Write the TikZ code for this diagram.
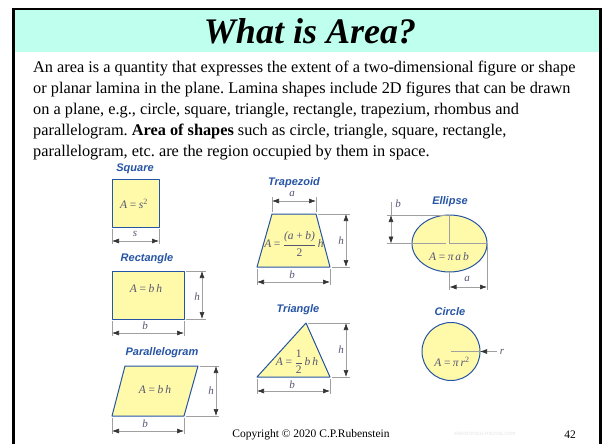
\documentclass[tikz,border=0pt]{standalone}
\usepackage{amsmath}
\usepackage{fontspec}
\setmainfont{Liberation Serif}
\newfontfamily\labelfont{Liberation Sans}
\definecolor{slidemint}{RGB}{191,255,238}
\definecolor{shapeblue}{RGB}{38,84,164}
\definecolor{shapeyellow}{RGB}{255,250,170}
\definecolor{formulagray}{RGB}{85,85,115}
\definecolor{dimgray}{RGB}{160,160,160}
\usetikzlibrary{arrows.meta}

\begin{document}
\frenchspacing
\begin{tikzpicture}[x=1pt, y=-1pt,
    shapebox/.style={draw=shapeblue, fill=shapeyellow, line width=1pt, line join=round},
    shapename/.style={text=shapeblue, font=\labelfont\bfseries\itshape\fontsize{11}{13}\selectfont},
    formula/.style={text=formulagray, font=\itshape\fontsize{11.5}{13}\selectfont, inner sep=0pt},
    dimlabel/.style={text=formulagray, font=\itshape\fontsize{11}{13}\selectfont, inner sep=0pt},
    extline/.style={dimgray, line width=0.6pt},
    dimline/.style={dimgray, line width=0.6pt, {Latex[length=7pt,width=5pt,black!80]}-{Latex[length=7pt,width=5pt,black!80]}}]
\useasboundingbox (0,0) rectangle (602,444);

% === Marco de la diapositiva ===
\fill[slidemint] (13,10) rectangle (600,52);
\draw[line width=3pt] (13.5,446) -- (13.5,9.5);
\draw[line width=2pt] (12,9) -- (602,9);
\draw[line width=3pt] (600.5,9.5) -- (600.5,446);

% Titulo
\node[font=\bfseries\itshape\fontsize{36}{40}\selectfont] (title) at (310,31) {What is Area?};

% Texto del cuerpo
\node[anchor=north west, inner sep=0pt, align=left, font=\fontsize{16.3}{21}\selectfont] (body) at (33,60.5) {%
An area is a quantity that expresses the extent of a two-dimensional figure or shape\\
or planar lamina in the plane. Lamina shapes include 2D figures that can be drawn\\
on a plane, e.g., circle, square, triangle, rectangle, trapezium, rhombus and\\
parallelogram. \textbf{Area of shapes} such as circle, triangle, square, rectangle,\\
parallelogram, etc. are the region occupied by them in space.};

% === Cuadrado ===
\node[shapename] (sqname) at (135,169) {Square};
\draw[shapebox] (112,179) rectangle (159,227);
\node[formula] (sqarea) at (134,204) {A\,=\,s\textsuperscript{\upshape 2}};
\draw[extline] (112,229) -- (112,244);
\draw[extline] (159,229) -- (159,244);
\draw[dimline] (112,241) -- (159,241);
\node[dimlabel] (sqs) at (135,234) {s};

% === Rectangulo ===
\node[shapename] (rectname) at (147,259) {Rectangle};
\draw[shapebox] (112,271) rectangle (184,319);
\node[formula] (rectarea) at (146,289) {A\,=\,b\,h};
\draw[extline] (186,271) -- (206,271);
\draw[extline] (186,319) -- (206,319);
\draw[dimline] (202,271) -- (202,319);
\node[dimlabel] (recth) at (197,297) {h};
\draw[extline] (112,321) -- (112,336);
\draw[extline] (184,321) -- (184,336);
\draw[dimline] (112,333) -- (184,333);
\node[dimlabel] (rectb) at (145,326) {b};

% === Paralelogramo ===
\node[shapename] (parname) at (162,353) {Parallelogram};
\draw[shapebox] (112,416) -- (184,416) -- (198,366) -- (125,366) -- cycle;
\node[formula] (pararea) at (155,390) {A\,=\,b\,h};
\draw[extline] (200,366) -- (219,366);
\draw[extline] (186,416) -- (219,416);
\draw[dimline] (216,366) -- (216,416);
\node[dimlabel] (parh) at (211,391) {h};
\draw[extline] (112,418) -- (112,434);
\draw[extline] (184,418) -- (184,434);
\draw[dimline] (112,431) -- (184,431);
\node[dimlabel] (parb) at (145,424) {b};

% === Trapecio ===
\node[shapename] (trapname) at (294,183) {Trapezoid};
\draw[shapebox] (257,267) -- (330,267) -- (316,214) -- (272,214) -- cycle;
\node[formula] (traparea) at (294,244) {A\,=\,$\dfrac{\text{(a\,+\,b)}}{\text{\upshape 2}}$\,h};
\draw[extline] (272,197) -- (272,212);
\draw[extline] (316,197) -- (316,212);
\draw[dimline] (272,201) -- (316,201);
\node[dimlabel] (trapa) at (292,194) {a};
\draw[extline] (318,214) -- (350,214);
\draw[extline] (332,267) -- (350,267);
\draw[dimline] (346,214) -- (346,267);
\node[dimlabel] (traph) at (341,241) {h};
\draw[extline] (257,269) -- (257,285);
\draw[extline] (330,269) -- (330,285);
\draw[dimline] (257,282) -- (330,282);
\node[dimlabel] (trapb) at (292,275) {b};

% === Triangulo ===
\node[shapename] (triname) at (298,310) {Triangle};
\draw[shapebox] (257,377) -- (330,377) -- (306,323) -- cycle;
\node[formula] (triarea) at (297,362) {A\,=\,$\dfrac{\text{\upshape 1}}{\text{\upshape 2}}$\,b\,h};
\draw[extline] (308,323) -- (350,323);
\draw[extline] (332,377) -- (350,377);
\draw[dimline] (346,323) -- (346,377);
\node[dimlabel] (trih) at (341,350) {h};
\draw[extline] (257,379) -- (257,394);
\draw[extline] (330,379) -- (330,394);
\draw[dimline] (257,391) -- (330,391);
\node[dimlabel] (trib) at (292,385) {b};

% === Elipse ===
\node[shapename] (ellname) at (450,202) {Ellipse};
\draw[shapebox] (449.5,243.5) ellipse [x radius=37.5, y radius=28.5];
\coordinate (ellc) at (449.5,243.5);
\draw[extline] (ellc |- 0,215) -- (ellc);
\draw[extline] (ellc) -- (487,243.5);
\draw[extline] (387,215) -- (447,215);
\draw[extline] (387,243.5) -- (446,243.5);
\draw[extline] (391,202) -- (391,215);
\draw[dimline] (391,215) -- (391,243.5);
\node[dimlabel] (ellb) at (398,204) {b};
\node[formula] (ellarea) at (449,257) {A\,=\,π\,a\,b};
\draw[extline] (449.5,272) -- (449.5,290);
\draw[extline] (487,243.5) -- (487,290);
\draw[dimline] (449.5,287) -- (487,287);
\node[dimlabel] (ella) at (467,279) {a};

% === Circulo ===
\node[shapename] (circname) at (450,312) {Circle};
\coordinate (circc) at (451,351.5);
\draw[shapebox] (circc) circle [radius=29];
\draw[extline] (circc) -- (497,351.5);
\draw[dimgray, line width=0.6pt, {Latex[length=7pt,width=5pt,black!80]}-] (480,351.5) -- (497,351.5);
\node[dimlabel] (circr) at (502,352) {r};
\node[formula] (circarea) at (452,362) {A\,=\,π\,r\textsuperscript{\upshape 2}};

% === Pie de pagina ===
\node[font=\fontsize{11.5}{13}\selectfont] (copyright) at (311,435) {Copyright \textcopyright{} 2020 C.P.Rubenstein};
\node[text=black!10, font=\labelfont\fontsize{6}{7}\selectfont] (watermark) at (485,433) {electronics-micros.com};
\node[font=\fontsize{11.5}{13}\selectfont] (pagenum) at (570,435) {42};

\end{tikzpicture}
\end{document}
